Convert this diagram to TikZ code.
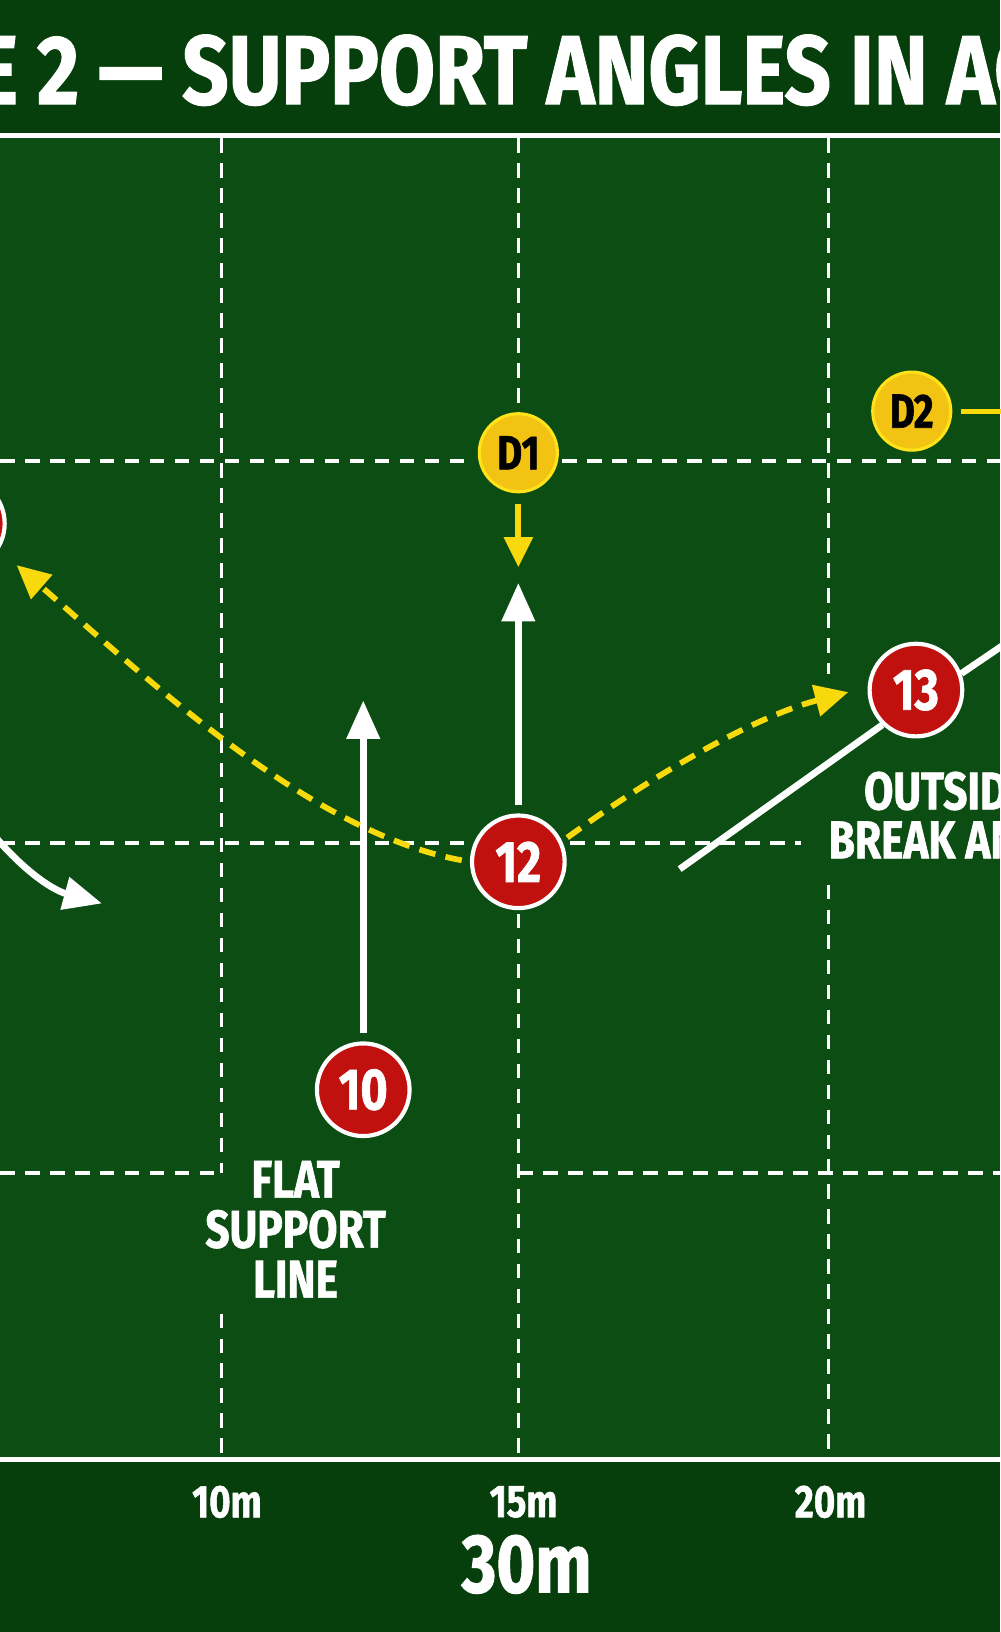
\documentclass[tikz,border=0pt]{standalone}
\usepackage{fontspec}
\setmainfont{Fira Sans}[FakeStretch=0.78]
\newfontfamily\heavy{Fira Sans}[FakeStretch=0.8, BoldFeatures={FakeBold=1.2}]
\usetikzlibrary{arrows.meta}
\definecolor{field}{HTML}{0B4D12}
\definecolor{band}{HTML}{063F0B}
\definecolor{pred}{HTML}{C1110F}
\definecolor{pgold}{HTML}{F3C313}
\definecolor{pgoldrim}{HTML}{FFE21A}
\definecolor{pyel}{HTML}{F7D90C}
\begin{document}
\begin{tikzpicture}[x=1pt,y=-1pt,
  grid/.style={white, line width=3.4pt, dash pattern=on 14pt off 10pt},
  redp/.style={circle, fill=pred, draw=white, line width=4pt, minimum size=89pt, inner sep=0pt, text=white, font=\heavy\bfseries\fontsize{56}{56}\selectfont},
  yelp/.style={circle, fill=pgold, draw=pgoldrim, line width=3pt, minimum size=75pt, inner sep=0pt, text=black, font=\heavy\bfseries\fontsize{46}{46}\selectfont},
  wline/.style={white, line width=6.5pt},
  warrow/.style={wline, -{Triangle[length=37pt,width=31pt]}},
  yarrow/.style={pyel, line width=5.5pt, -{Triangle[length=29pt,width=27pt]}},
  ydash/.style={pyel, line width=5.5pt, dash pattern=on 16pt off 10pt, -{Triangle[length=32pt,width=30pt]}},
  lbl/.style={text=white, font=\heavy\bfseries\fontsize{51}{48}\selectfont, align=center, inner sep=0pt},
  tick/.style={text=white, font=\heavy\bfseries\fontsize{44}{44}\selectfont, inner sep=0pt}
]
\useasboundingbox (0,0) rectangle (961,1568);
% backgrounds
\fill[field] (0,0) rectangle (961,1568);
\fill[band] (0,0) rectangle (961,128);
\fill[band] (0,1404) rectangle (961,1568);
% frame lines
\draw[white, line width=5pt] (0,130) -- (961,130);
\draw[white, line width=5pt] (0,1402) -- (961,1402);
% vertical grid
\draw[grid] (213,133) -- (213,1127);
\draw[grid] (213,1262) -- (213,1398);
\draw[grid] (498,133) -- (498,395);
\draw[grid] (498,878) -- (498,1398);
\draw[grid] (796,133) -- (796,648);
\draw[grid] (796,850) -- (796,1398);
% horizontal grid
\draw[grid] (0,443) -- (455,443);
\draw[grid] (540,443) -- (961,443);
\draw[grid] (0,810) -- (450,810);
\draw[grid] (548,810) -- (770,810);
\draw[grid] (0,1127) -- (213,1127);
\draw[grid] (498,1127) -- (961,1127);
% title
\node[text=white, font=\heavy\bfseries\addfontfeatures{FakeStretch=0.83}\fontsize{94}{94}\selectfont, inner sep=0pt, anchor=base west] (title) at (-24,100) {E 2 — SUPPORT ANGLES IN AC};
% players
\node[yelp] (d1) at (498,435) {D1};
\node[yelp] (d2) at (876,395) {D2};
\node[redp] (p12) at (498,828) {12};
\node[redp] (p13) at (880,663) {13};
\node[redp] (p10) at (349,1047) {10};
\node[redp] (pl) at (-40,503) {};
% free ends
\coordinate (t1) at (498,545);
\coordinate (t12) at (498,560);
\coordinate (t10) at (349,673);
\coordinate (tl) at (16,543);
\coordinate (t13) at (815,665);
\coordinate (s13) at (653,835);
\coordinate (e13) at (990,602);
\coordinate (e2) at (975,395);
\coordinate (c0) at (-12,795);
\coordinate (c1) at (98,868);
% runs and passes
\draw[yarrow, shorten <=10pt] (d1) -- (t1);
\draw[pyel, line width=5pt, shorten <=8pt] (d2) -- (e2);
\draw[warrow, shorten <=8pt] (p12) -- (t12);
\draw[warrow, shorten <=8pt] (p10) -- (t10);
\draw[ydash, shorten <=8pt] (p12.west) .. controls (300,800) and (150,660) .. (tl);
\draw[ydash, shorten <=6pt] (p12.25) .. controls (620,750) and (720,690) .. (t13);
\draw[wline] (s13) -- (p13.226);
\draw[wline] (p13.20) -- (e13);
\draw[warrow] (c0) .. controls (20,835) and (50,855) .. (c1);
% labels
\node[lbl] (flat) at (284,1181) {FLAT\\SUPPORT\\LINE};
\node[lbl, anchor=west] (outs) at (830,760) {OUTSID};
\node[lbl, anchor=west] (brk) at (796,807) {BREAK AN};
\node[tick] (m10) at (218,1443) {10m};
\node[tick] (m15) at (503,1443) {15m};
\node[tick] (m20) at (798,1443) {20m};
\node[text=white, font=\heavy\bfseries\fontsize{80}{80}\selectfont, inner sep=0pt] (m30) at (506,1503) {30m};
\end{tikzpicture}
\end{document}
